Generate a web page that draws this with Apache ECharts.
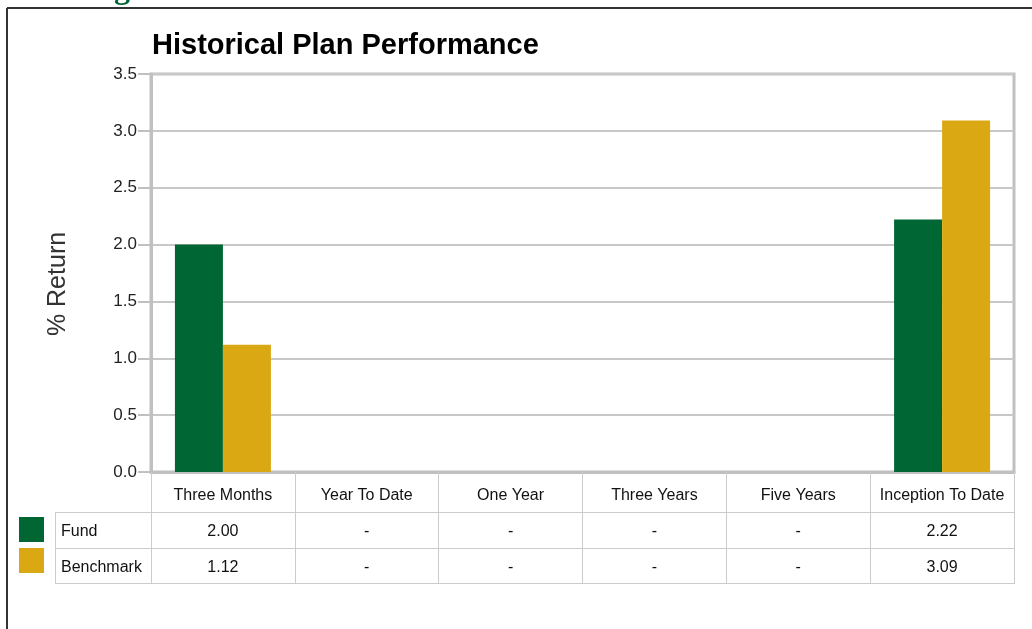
<!DOCTYPE html>
<html><head><meta charset="utf-8">
<script src="https://cdn.jsdelivr.net/npm/echarts@6/dist/echarts.min.js"></script>
<style>html,body{margin:0;padding:0;background:#fff}#c{width:1032px;height:629px}</style>
</head><body><div id="c"></div>
<script>
var categories = ['Three Months','Year To Date','One Year','Three Years','Five Years','Inception To Date'];
var fundValues = [2.00, null, null, null, null, 2.22];
var benchmarkValues = [1.12, null, null, null, null, 3.09];
var seriesNames = ['Fund','Benchmark'];
var yTicks = {min:0, max:3.5, interval:0.5};

var NARROW = "'Liberation Sans Narrow','Arial Narrow','Liberation Sans',Arial,sans-serif";
var SANS = "'Liberation Sans',Arial,sans-serif";
function fmt(v){ return v == null ? '-' : v.toFixed(2); }

var chart = echarts.init(document.getElementById('c'));
chart.setOption({
  animation:false,
  backgroundColor:'#fff',
  title:{text:'Historical Plan Performance', left:152, top:31, padding:0,
    textStyle:{fontFamily:SANS, fontWeight:'bold', fontSize:29, color:'#000'}},
  legend:{orient:'vertical', left:19, top:517, padding:0, itemWidth:25, itemHeight:25, itemGap:6,
    icon:'rect', data:seriesNames,
    formatter:function(name){ return (name === seriesNames[0] ? '{f|' : '{b|') + name + '}'; },
    textStyle:{fontFamily:SANS, fontSize:16, color:'#111',
      rich:{f:{fontFamily:SANS, fontSize:16, color:'#111', padding:[4,0,0,12]},
            b:{fontFamily:SANS, fontSize:16, color:'#111', padding:[14,0,0,12]}}}},
  grid:{left:151, right:18, top:74, bottom:157, show:true, borderColor:'#c0c0c0', borderWidth:3},
  xAxis:{type:'category', data:categories,
    axisLine:{show:true, lineStyle:{color:'#c0c0c0', width:3}},
    axisTick:{show:true, length:111, lineStyle:{color:'#cccccc', width:1}},
    axisLabel:{interval:0, margin:6,
      formatter:function(v, i){ return '{h|'+v+'}\n{v|'+fmt(fundValues[i])+'}\n{v|'+fmt(benchmarkValues[i])+'}'; },
      rich:{h:{fontFamily:NARROW, fontSize:16, color:'#111', lineHeight:36},
            v:{fontFamily:SANS, fontSize:16, color:'#111', lineHeight:36}}}},
  yAxis:{type:'value', min:yTicks.min, max:yTicks.max, interval:yTicks.interval,
    name:'% Return', nameLocation:'middle', nameGap:80,
    nameTextStyle:{fontFamily:SANS, fontSize:25, color:'#333', padding:[0,22,0,0]},
    axisLine:{show:true, lineStyle:{color:'#c0c0c0', width:3}},
    axisTick:{show:true, length:13, lineStyle:{color:'#c0c0c0', width:2}},
    axisLabel:{margin:14, fontFamily:NARROW, fontSize:17, color:'#222',
      formatter:function(v){return v.toFixed(1);}},
    splitLine:{show:true, lineStyle:{color:'#c8c8c8', width:2}}},
  series:[
    {name:seriesNames[0], type:'bar', data:fundValues, barWidth:48, barGap:'0%', itemStyle:{color:'#006633'}},
    {name:seriesNames[1], type:'bar', data:benchmarkValues, barWidth:48, barGap:'0%', itemStyle:{color:'#D9A813'}}
  ],
  graphic:[
    {type:'line', shape:{x1:7,y1:8,x2:1032,y2:8}, style:{stroke:'#333', lineWidth:2}},
    {type:'line', shape:{x1:7,y1:8,x2:7,y2:629}, style:{stroke:'#333', lineWidth:2}},
    {type:'line', shape:{x1:55,y1:512.5,x2:1015,y2:512.5}, style:{stroke:'#cccccc', lineWidth:1}},
    {type:'line', shape:{x1:55,y1:548.5,x2:1015,y2:548.5}, style:{stroke:'#cccccc', lineWidth:1}},
    {type:'line', shape:{x1:55,y1:583.5,x2:1015,y2:583.5}, style:{stroke:'#cccccc', lineWidth:1}},
    {type:'line', shape:{x1:55.5,y1:512,x2:55.5,y2:584}, style:{stroke:'#cccccc', lineWidth:1}},
    {type:'text', left:114, top:-26, style:{text:'g', fill:'#006633', font:'bold 32px "Liberation Serif",serif'}}
  ]
});
</script></body></html>
